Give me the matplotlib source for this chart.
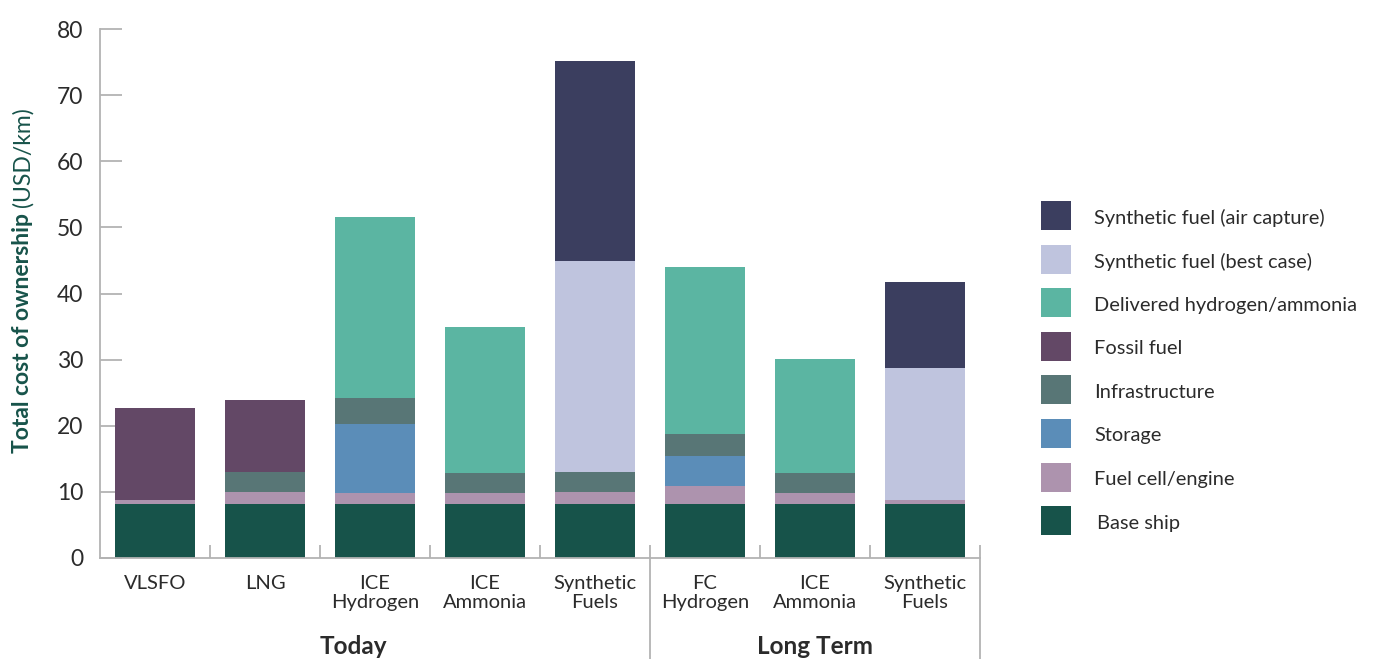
import numpy as np
import matplotlib
matplotlib.use("Agg")
import matplotlib.pyplot as plt
from matplotlib.patches import Rectangle

plt.rcParams['font.family'] = ['Lato', 'DejaVu Sans']

# categories on the x axis, grouped into two time horizons
categories = ['VLSFO', 'LNG', 'ICE\nHydrogen', 'ICE\nAmmonia', 'Synthetic\nFuels',
              'FC\nHydrogen', 'ICE\nAmmonia', 'Synthetic\nFuels']
groups = ['Today', 'Long Term']

# cost components, USD/km, stacked from the bottom up
base_ship = [8.2, 8.2, 8.2, 8.2, 8.2, 8.2, 8.2, 8.2]
fuel_cell = [0.6, 1.8, 1.6, 1.6, 1.8, 2.7, 1.6, 0.6]
storage = [0, 0, 10.5, 0, 0, 4.5, 0, 0]
infrastructure = [0, 3.0, 3.9, 3.1, 3.0, 3.4, 3.1, 0]
fossil_fuel = [13.9, 10.9, 0, 0, 0, 0, 0, 0]
delivered_h2 = [0, 0, 27.4, 22.0, 0, 25.2, 17.2, 0]
synth_best = [0, 0, 0, 0, 31.9, 0, 0, 19.9]
synth_air = [0, 0, 0, 0, 30.3, 0, 0, 13.0]

series = [
    ('Base ship', base_ship, '#17534a'),
    ('Fuel cell/engine', fuel_cell, '#ad93ae'),
    ('Storage', storage, '#5b8db8'),
    ('Infrastructure', infrastructure, '#587676'),
    ('Fossil fuel', fossil_fuel, '#634866'),
    ('Delivered hydrogen/ammonia', delivered_h2, '#5bb5a2'),
    ('Synthetic fuel (best case)', synth_best, '#bfc4de'),
    ('Synthetic fuel (air capture)', synth_air, '#3b3e5f'),
]

txt = '#2b2b2b'
axis_grey = '#b3b3b3'
green = '#17534a'

fig = plt.figure(figsize=(13.75, 6.59), dpi=100)
W, H = 1375, 659
ax = fig.add_axes([100 / W, 1 - 558 / H, 880 / W, 529 / H])

x = np.arange(len(categories))
bottom = np.zeros(len(categories))
for name, vals, col in series:
    vals = np.array(vals, dtype=float)
    ax.bar(x, vals, width=0.727, bottom=bottom, color=col, linewidth=0, zorder=2)
    bottom += vals

ax.set_xlim(-0.5, len(categories) - 0.5)
ax.set_ylim(0, 80)
ax.set_yticks(np.arange(0, 81, 10))
ax.set_xticks(x)
ax.set_xticklabels(categories, fontsize=14.5, color=txt, linespacing=1.15)
ax.set_xticks(np.arange(0.5, len(categories), 1), minor=True)

for s in ['top', 'right']:
    ax.spines[s].set_visible(False)
for s in ['left', 'bottom']:
    ax.spines[s].set_color(axis_grey)
    ax.spines[s].set_linewidth(1.3)

ax.tick_params(axis='y', direction='in', length=16, width=1.3, color=axis_grey,
               labelsize=16.5, labelcolor=txt, pad=12)
ax.tick_params(axis='x', which='major', length=0, pad=12)
ax.tick_params(axis='x', which='minor', direction='in', length=9.5, width=1.3,
               color=axis_grey)

# group separators hanging below the axis
for bx in [4.5, 7.5]:
    ax.plot([bx, bx], [0, -0.2], transform=ax.get_xaxis_transform(),
            color=axis_grey, lw=1.3, clip_on=False)

ax.text(1.8, -0.167, groups[0], transform=ax.get_xaxis_transform(),
        ha='center', va='center', fontsize=17.5, fontweight='bold', color=txt)
ax.text(6.0, -0.167, groups[1], transform=ax.get_xaxis_transform(),
        ha='center', va='center', fontsize=17.5, fontweight='bold', color=txt)

# y label: bold part then regular unit part
renderer = fig.canvas.get_renderer()
t1 = fig.text(23 / W, 1 - 453 / H, 'Total cost of ownership', rotation=90,
              ha='center', va='bottom', fontsize=16.5, fontweight='bold', color=green)
bb = t1.get_window_extent(renderer)
fig.text(23 / W, (bb.y1 + 6) / H, '(USD/km)', rotation=90,
         ha='center', va='bottom', fontsize=16.5, color=green)

# legend, top entry is the top of the stack
lg = fig.add_axes([0, 0, 1, 1], facecolor='none')
lg.set_xlim(0, W)
lg.set_ylim(H, 0)
lg.axis('off')
for i, (name, vals, col) in enumerate(series[::-1]):
    y0 = 201 + i * 43.6
    lg.add_patch(Rectangle((1041, y0), 30, 29, color=col, linewidth=0))
    lg.text(1094 if name != 'Base ship' else 1097, y0 + 17, name, fontsize=14.4,
            color=txt, va='center', ha='left')

fig.savefig('out.png', dpi=100)
